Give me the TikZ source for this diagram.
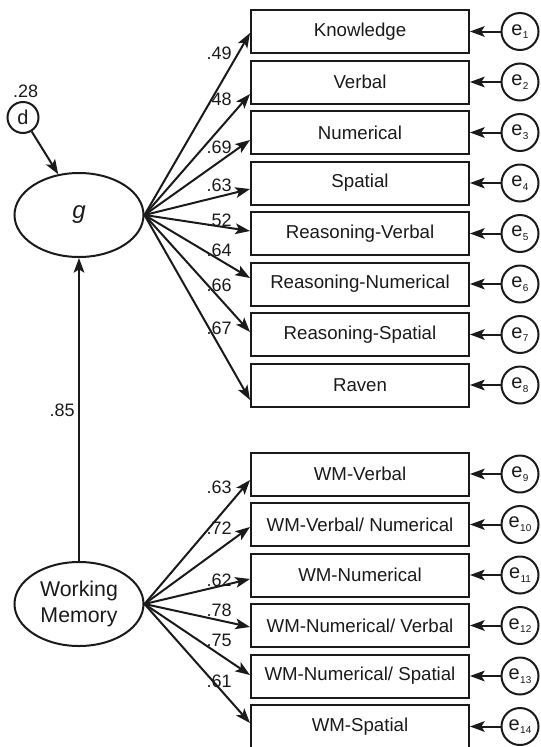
\documentclass[tikz,border=0pt]{standalone}
\usepackage{fontspec}
\setmainfont{Liberation Sans}
\usetikzlibrary{arrows.meta,shapes.geometric}
\definecolor{pathink}{HTML}{1A1A1A}

\newcommand{\errlabel}[1]{{\fontsize{15}{17}\selectfont e}\kern0.3pt\raisebox{-2.8pt}{\fontsize{7.5}{8}\selectfont #1}}

\begin{document}
\begin{tikzpicture}[
  x=0.75pt,
  y=-0.75pt,
  every node/.style={font=\fontsize{14}{16}\selectfont, text=pathink},
  path/.style={draw=pathink, line width=1.5pt, -{Stealth[length=11pt,width=8pt,inset=2.5pt]}},
  indicator/.style={draw=pathink, line width=1.5pt, minimum width=163.5pt, minimum height=32.25pt, inner sep=0pt},
  latent/.style={ellipse, draw=pathink, line width=1.5pt, minimum width=96.75pt, minimum height=63pt, inner sep=0pt},
  residual/.style={circle, draw=pathink, line width=1.5pt, minimum size=27.75pt, inner sep=0pt},
  loading/.style={font=\fontsize{13.5}{16}\selectfont, anchor=east, inner sep=0pt}
]
  \useasboundingbox (0,0) rectangle (540,747);

  % latent factors and the disturbance on g
  \node[latent] (g) at (79,215) {\fontsize{18}{20}\selectfont\itshape g};
  \node[latent, align=center, font=\fontsize{16}{19}\selectfont] (wm) at (79,604) {Working\\Memory};
  \node[residual, minimum size=23.25pt, font=\fontsize{15}{17}\selectfont] (d) at (23,117.5) {d};
  \node[loading, anchor=south, xshift=2pt, yshift=2pt] (dvar) at (d.north) {.28};
  \draw[path] (d) -- (g.117);
  \draw[path] (wm.north) -- (g.south);
  \node[loading] (wmg) at (75,410) {.85};

  % indicators of g
  \foreach \i/\lbl/\lam/\tip/\ly in {
      1/Knowledge/.49/1.5/53,
      2/Verbal/.48/12/99,
      3/Numerical/.69/7.5/147,
      4/Spatial/.63/6/185,
      5/Reasoning-Verbal/.52/-2.5/220,
      6/Reasoning-Numerical/.64/-6/250,
      7/Reasoning-Spatial/.66/-2.5/285,
      8/Raven/.67/15/328}{
    \node[indicator] (x\i) at (360,{31.5+50.5*(\i-1)}) {\lbl};
    \node[residual] (e\i) at (520,{31.5+50.5*(\i-1)}) {\errlabel{\i}};
    \draw[path] (e\i) -- (x\i);
    \draw[path] (g.east) -- ([yshift={-\tip*0.75pt}]x\i.west);
    \node[loading] (l\i) at (232,\ly) {\lam};
  }

  % indicators of working memory
  \foreach \i/\lbl/\lam/\tip/\ly in {
      9/WM-Verbal/.63/6/487,
      10/{WM-Verbal/ Numerical}/.72/2.5/528,
      11/WM-Numerical/.62/4/580,
      12/{WM-Numerical/ Verbal}/.78/1.5/610,
      13/{WM-Numerical/ Spatial}/.75/-1/640,
      14/WM-Spatial/.61/-3.5/681}{
    \node[indicator] (x\i) at (360,{474+50.5*(\i-9)}) {\lbl};
    \node[residual] (e\i) at (520,{474+50.5*(\i-9)}) {\errlabel{\i}};
    \draw[path] (e\i) -- (x\i);
    \draw[path] (wm.east) -- ([yshift={-\tip*0.75pt}]x\i.west);
    \node[loading] (l\i) at (232,\ly) {\lam};
  }
\end{tikzpicture}
\end{document}
